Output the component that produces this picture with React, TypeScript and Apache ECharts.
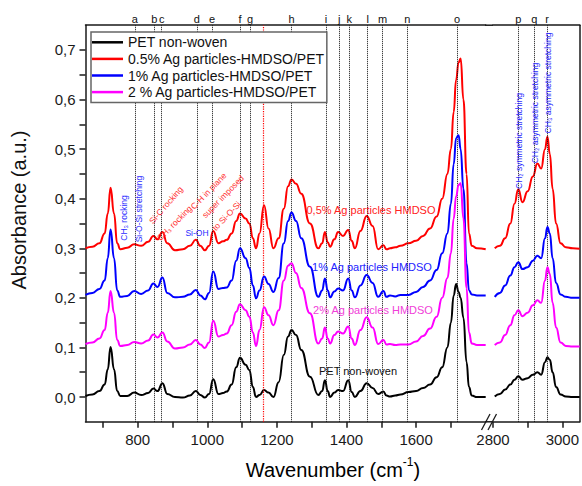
import React, { useEffect, useRef } from 'react';
import * as echarts from 'echarts';

// ---- data ----
const wavenumbersLow = [
  650, 670, 690, 705, 714, 722, 732, 741, 750, 770,
  790, 810, 830, 845, 857, 871, 885, 907, 930, 950,
  967, 980, 993, 1005, 1017, 1032, 1045, 1056, 1070, 1083,
  1094, 1110, 1121, 1131, 1140, 1150, 1163, 1176, 1190, 1205,
  1220, 1232, 1242, 1255, 1270, 1295, 1319, 1330, 1338, 1346,
  1353, 1365, 1376, 1390, 1405, 1415, 1424, 1440, 1458, 1475,
  1491, 1506, 1515, 1525, 1540, 1555, 1578, 1600, 1620, 1640,
  1659, 1675, 1690, 1700, 1708, 1715, 1722, 1728, 1736, 1745,
  1752, 1760, 1775, 1800,
];
const petLow = [
  0.002, 0.005, 0.012, 0.025, 0.056, 0.101, 0.056, 0.012, 0.002, 0.002,
  0.009, 0.004, 0.008, 0.017, 0.012, 0.028, 0.006, 0.0, -0.001, 0.003,
  0.012, 0.004, -0.001, 0.006, 0.036, 0.006, 0.008, 0.011, 0.025, 0.06,
  0.079, 0.065, 0.054, 0.02, 0.0, 0.004, 0.014, 0.009, 0.0, 0.03,
  0.085, 0.122, 0.135, 0.125, 0.095, 0.041, 0.004, 0.012, 0.034, 0.012,
  0.0, 0.009, 0.014, 0.012, 0.034, 0.01, 0.0, 0.012, 0.028, 0.018,
  0.006, 0.011, 0.003, 0.001, 0.003, 0.005, 0.01, 0.012, 0.018, 0.025,
  0.04, 0.06, 0.1, 0.15, 0.205, 0.228, 0.212, 0.2, 0.16, 0.07,
  0.02, 0.003, 0.0, 0.0,
];
const ag05Low = [
  0.3, 0.303, 0.31, 0.33, 0.37, 0.422, 0.37, 0.31, 0.298, 0.301,
  0.308, 0.305, 0.313, 0.325, 0.318, 0.333, 0.31, 0.296, 0.298, 0.305,
  0.317, 0.305, 0.296, 0.305, 0.335, 0.31, 0.314, 0.317, 0.33, 0.355,
  0.37, 0.36, 0.35, 0.32, 0.3, 0.33, 0.387, 0.34, 0.3, 0.32,
  0.38, 0.425, 0.439, 0.43, 0.41, 0.35, 0.3, 0.31, 0.333, 0.312,
  0.303, 0.318, 0.333, 0.325, 0.337, 0.315, 0.3, 0.335, 0.365, 0.345,
  0.298, 0.306, 0.298, 0.3, 0.302, 0.305, 0.31, 0.315, 0.325, 0.34,
  0.364, 0.4, 0.45, 0.5, 0.575, 0.64, 0.675, 0.683, 0.6, 0.45,
  0.33, 0.305, 0.3, 0.298,
];
const ag1Low = [
  0.206, 0.21, 0.218, 0.235, 0.28, 0.338, 0.28, 0.215, 0.202, 0.204,
  0.214, 0.208, 0.215, 0.229, 0.222, 0.241, 0.21, 0.201, 0.202, 0.207,
  0.216, 0.205, 0.197, 0.21, 0.253, 0.218, 0.22, 0.221, 0.235, 0.275,
  0.3, 0.28, 0.26, 0.225, 0.199, 0.215, 0.243, 0.228, 0.212, 0.24,
  0.31, 0.355, 0.372, 0.355, 0.32, 0.263, 0.202, 0.215, 0.239, 0.215,
  0.201, 0.213, 0.219, 0.215, 0.239, 0.215, 0.201, 0.225, 0.246, 0.23,
  0.202, 0.214, 0.202, 0.205, 0.203, 0.206, 0.206, 0.212, 0.222, 0.235,
  0.256, 0.29, 0.33, 0.39, 0.47, 0.522, 0.528, 0.5, 0.42, 0.27,
  0.215, 0.207, 0.205, 0.205,
];
const ag2Low = [
  0.107, 0.11, 0.118, 0.135, 0.17, 0.214, 0.17, 0.115, 0.103, 0.105,
  0.111, 0.108, 0.114, 0.126, 0.12, 0.13, 0.112, 0.098, 0.1, 0.106,
  0.115, 0.106, 0.099, 0.11, 0.154, 0.122, 0.125, 0.128, 0.145, 0.172,
  0.187, 0.175, 0.162, 0.13, 0.103, 0.135, 0.181, 0.165, 0.145, 0.175,
  0.235, 0.265, 0.27, 0.25, 0.22, 0.169, 0.108, 0.118, 0.14, 0.118,
  0.108, 0.125, 0.132, 0.128, 0.142, 0.118, 0.105, 0.135, 0.161, 0.14,
  0.107, 0.115, 0.106, 0.107, 0.105, 0.106, 0.106, 0.112, 0.123, 0.138,
  0.162, 0.2, 0.24, 0.29, 0.36, 0.405, 0.428, 0.431, 0.36, 0.22,
  0.13, 0.108, 0.105, 0.105,
];

const wavenumbersHigh = [
  2805, 2820, 2835, 2850, 2862, 2873, 2885, 2900, 2915, 2928,
  2939, 2950, 2957, 2964, 2972, 2982, 2995, 3010, 3030, 3050,
];
const petHigh = [
  0.001, 0.006, 0.015, 0.025, 0.035, 0.042, 0.035, 0.038, 0.045, 0.05,
  0.045, 0.07, 0.08, 0.075, 0.05, 0.02, 0.005, 0.001, 0.0, 0.0,
];
const ag05High = [
  0.3, 0.305, 0.32, 0.35, 0.39, 0.419, 0.393, 0.415, 0.445, 0.471,
  0.461, 0.5, 0.525, 0.49, 0.42, 0.35, 0.31, 0.302, 0.3, 0.299,
];
const ag1High = [
  0.202, 0.21, 0.225, 0.245, 0.262, 0.272, 0.258, 0.262, 0.275, 0.285,
  0.28, 0.32, 0.343, 0.33, 0.28, 0.23, 0.207, 0.202, 0.2, 0.2,
];
const ag2High = [
  0.105, 0.11, 0.125, 0.145, 0.165, 0.175, 0.163, 0.17, 0.185, 0.195,
  0.19, 0.235, 0.262, 0.248, 0.19, 0.14, 0.11, 0.103, 0.102, 0.102,
];

const seriesNames = [
  'PET non-woven',
  '0.5% Ag particles-HMDSO/PET',
  '1% Ag particles-HMDSO/PET',
  '2 % Ag particles-HMDSO/PET',
];
const seriesColors = ['#000000', '#ff0000', '#0000ff', '#ff00ff'];

const bandLettersLow = ['a', 'b', 'c', 'd', 'e', 'f', 'g', 'h', 'i', 'j', 'k', 'l', 'm', 'n', 'o'];
const bandPositionsLow = [792, 848, 869, 970, 1014, 1094, 1123, 1242, 1341, 1379, 1408, 1461, 1504, 1575, 1718];
const bandLettersHigh = ['p', 'q', 'r'];
const bandPositionsHigh = [2873, 2919, 2956];
const redMarkerPosition = 1161;

const yTickValues = [0, 0.05, 0.1, 0.15, 0.2, 0.25, 0.3, 0.35, 0.4, 0.45, 0.5, 0.55, 0.6, 0.65, 0.7];
const yLabelValues = [0, 0.1, 0.2, 0.3, 0.4, 0.5, 0.6, 0.7];
const xTickValuesLow = [700, 800, 900, 1000, 1100, 1200, 1300, 1400, 1500, 1600, 1700];
const xLabelValuesLow = [800, 1000, 1200, 1400, 1600];
const xTickValuesHigh = [2800, 2900, 3000];
const xLabelValuesHigh = [2800, 3000];

const FONT = '"Liberation Sans", Arial, Helvetica, sans-serif';

const zip = (xs: number[], ys: number[]) => xs.map((x, i) => [x, ys[i]]);

function buildOption() {
  const lowData = [petLow, ag05Low, ag1Low, ag2Low];
  const highData = [petHigh, ag05High, ag1High, ag2High];

  const axisLineStyle = { color: '#1a1a1a', width: 1.5 };
  const labelStyle = { fontFamily: FONT, fontSize: 15, color: '#1a1a1a' };

  const markLineLow = {
    silent: true,
    symbol: ['none', 'none'],
    animation: false,
    lineStyle: { type: 'dotted', color: '#111', width: 1 },
    label: { show: true, position: 'end', formatter: '{b}', fontFamily: FONT, fontSize: 11, color: '#111', distance: 1 },
    data: [
      ...bandPositionsLow.map((x, i) => ({ xAxis: x, name: bandLettersLow[i] })),
      { xAxis: redMarkerPosition, name: '', lineStyle: { color: '#ff0000', type: 'dotted', width: 1.2 }, label: { show: false } },
    ],
  };
  const markLineHigh = {
    silent: true,
    symbol: ['none', 'none'],
    animation: false,
    lineStyle: { type: 'dotted', color: '#111', width: 1 },
    label: { show: true, position: 'end', formatter: '{b}', fontFamily: FONT, fontSize: 11, color: '#111', distance: 1 },
    data: bandPositionsHigh.map((x, i) => ({ xAxis: x, name: bandLettersHigh[i] })),
  };

  const series: any[] = [];
  seriesNames.forEach((name, k) => {
    series.push({
      name,
      type: 'line',
      xAxisIndex: 0,
      yAxisIndex: 0,
      data: zip(wavenumbersLow, lowData[k]),
      symbol: 'none',
      smooth: 0.5,
      smoothMonotone: 'x',
      lineStyle: { color: seriesColors[k], width: 2 },
      itemStyle: { color: seriesColors[k] },
      z: 3 + k,
      ...(k === 0 ? { markLine: markLineLow } : {}),
    });
    series.push({
      name,
      type: 'line',
      xAxisIndex: 1,
      yAxisIndex: 1,
      data: zip(wavenumbersHigh, highData[k]),
      symbol: 'none',
      smooth: 0.5,
      smoothMonotone: 'x',
      lineStyle: { color: seriesColors[k], width: 2 },
      itemStyle: { color: seriesColors[k] },
      z: 3 + k,
      ...(k === 0 ? { markLine: markLineHigh } : {}),
    });
  });

  const blue = '#2b2bff';
  const red = '#ff3030';
  const small = (text: string, x: number, y: number, deg: number, fill: string) => ({
    type: 'text',
    x,
    y,
    rotation: (deg * Math.PI) / 180,
    z: 10,
    style: { text, fill, fontFamily: FONT, fontSize: 8.5, align: 'center', verticalAlign: 'middle' },
  });
  const curveLabel = (text: string, x: number, y: number, fill: string) => ({
    type: 'text',
    x,
    y,
    z: 10,
    style: { text, fill, fontFamily: FONT, fontSize: 11, align: 'center', verticalAlign: 'middle' },
  });

  const graphic = [
    // axis titles
    {
      type: 'text',
      x: 333,
      y: 468,
      z: 10,
      style: {
        text: '{a|Wavenumber (cm}{b|-1}{a|)}',
        align: 'center',
        verticalAlign: 'middle',
        rich: {
          a: { fontFamily: FONT, fontSize: 20, color: '#111', lineHeight: 24, verticalAlign: 'bottom' },
          b: { fontFamily: FONT, fontSize: 12, color: '#111', lineHeight: 24, verticalAlign: 'top' },
        },
      },
    },
    {
      type: 'text',
      x: 19,
      y: 210,
      rotation: Math.PI / 2,
      z: 10,
      style: { text: 'Absorbance (a.u.)', fill: '#111', fontFamily: FONT, fontSize: 20, align: 'center', verticalAlign: 'middle' },
    },
    // frame pieces across the break
    { type: 'line', z: 10, shape: { x1: 485, y1: 25.2, x2: 493, y2: 25.2 }, style: { stroke: '#1a1a1a', lineWidth: 1.5 } },
    { type: 'line', z: 10, shape: { x1: 485, y1: 421.8, x2: 493, y2: 421.8 }, style: { stroke: '#1a1a1a', lineWidth: 1.5 } },
    { type: 'line', z: 11, shape: { x1: 481.5, y1: 430, x2: 490, y2: 414 }, style: { stroke: '#1a1a1a', lineWidth: 1.3 } },
    { type: 'line', z: 11, shape: { x1: 488, y1: 430, x2: 496.5, y2: 414 }, style: { stroke: '#1a1a1a', lineWidth: 1.3 } },
    // band assignments
    small('CH\u2083 rocking', 123.5, 218, 90, blue),
    small('Si-O-Si stretching', 139, 209, 90, blue),
    small('Si-C rocking', 166, 205, 49, red),
    small('CH\u2083 rocking', 174.5, 223, 45, red),
    small('Si-OH', 197, 233, 0, blue),
    small('C-H in plane', 208.5, 191, 46, red),
    small('super imposed', 223, 196.5, 46, red),
    small('to Si-O-Si', 226.5, 216, 46, red),
    small('CH\u2082 symmetric stretching', 518.5, 141, 90, blue),
    small('CH\u2082 asymmetric stretching', 535, 113, 90, blue),
    small('CH\u2083 asymmetric stretching', 547.5, 83, 90, blue),
    // curve labels
    curveLabel('0,5% Ag particles HMDSO', 371, 210, '#ff2222'),
    curveLabel('1% Ag particles HMDSO', 372, 267, '#2222ff'),
    curveLabel('2% Ag particles HMDSO', 373, 310, '#f040d8'),
    curveLabel('PET non-woven', 358, 371, '#111111'),
  ];

  const xFormatter = (v: number) => String(Math.round(v));

  return {
    animation: false,
    backgroundColor: '#ffffff',
    textStyle: { fontFamily: FONT },
    legend: {
      data: seriesNames,
      orient: 'vertical',
      left: 91,
      top: 32,
      itemGap: 0,
      itemWidth: 31,
      itemHeight: 2.5,
      icon: 'rect',
      padding: [2, 2, 2, 1],
      backgroundColor: '#ffffff',
      borderColor: '#666666',
      borderWidth: 1.5,
      borderRadius: 0,
      textStyle: { fontFamily: FONT, fontSize: 14, color: '#111', lineHeight: 16.6 },
      selectedMode: false,
      z: 20,
    },
    grid: [
      { left: 85.5, top: 25.2, width: 400.2, height: 396.6 },
      { left: 493, top: 25.2, width: 87, height: 396.6 },
    ],
    xAxis: [
      {
        type: 'value', gridIndex: 0, min: 650, max: 1800, position: 'bottom',
        axisLine: { show: true, onZero: false, lineStyle: axisLineStyle },
        axisTick: { show: true, inside: false, length: 6, lineStyle: axisLineStyle, customValues: xTickValuesLow },
        axisLabel: { ...labelStyle, margin: 10, customValues: xLabelValuesLow, formatter: xFormatter },
        splitLine: { show: false },
      },
      {
        type: 'value', gridIndex: 1, min: 2800, max: 3050, position: 'bottom',
        axisLine: { show: true, onZero: false, lineStyle: axisLineStyle },
        axisTick: { show: true, inside: false, length: 6, lineStyle: axisLineStyle, customValues: xTickValuesHigh },
        axisLabel: { ...labelStyle, margin: 10, customValues: xLabelValuesHigh, formatter: xFormatter },
        splitLine: { show: false },
      },
      {
        type: 'value', gridIndex: 0, min: 650, max: 1800, position: 'top',
        axisLine: { show: true, onZero: false, lineStyle: axisLineStyle },
        axisTick: { show: false }, axisLabel: { show: false }, splitLine: { show: false },
      },
      {
        type: 'value', gridIndex: 1, min: 2800, max: 3050, position: 'top',
        axisLine: { show: true, onZero: false, lineStyle: axisLineStyle },
        axisTick: { show: false }, axisLabel: { show: false }, splitLine: { show: false },
      },
    ],
    yAxis: [
      {
        type: 'value', gridIndex: 0, min: -0.05, max: 0.75, position: 'left',
        axisLine: { show: true, onZero: false, lineStyle: axisLineStyle },
        axisTick: { show: true, inside: false, length: 6, lineStyle: axisLineStyle, customValues: yTickValues },
        axisLabel: {
          ...labelStyle,
          margin: 10,
          customValues: yLabelValues,
          formatter: (v: number) => v.toFixed(1).replace('.', ','),
        },
        splitLine: { show: false },
      },
      {
        type: 'value', gridIndex: 1, min: -0.05, max: 0.75, position: 'right',
        axisLine: { show: true, onZero: false, lineStyle: axisLineStyle },
        axisTick: { show: false }, axisLabel: { show: false }, splitLine: { show: false },
      },
    ],
    series,
    graphic,
  };
}

export default function App() {
  const ref = useRef<HTMLDivElement>(null);
  useEffect(() => {
    if (!ref.current) return;
    const chart = echarts.init(ref.current, undefined, { renderer: 'svg' });
    chart.setOption(buildOption() as any);
    return () => chart.dispose();
  }, []);
  return (
    <div
      ref={ref}
      style={{ position: 'absolute', left: 0, top: 0, width: 582, height: 486, background: '#fff' }}
    />
  );
}
